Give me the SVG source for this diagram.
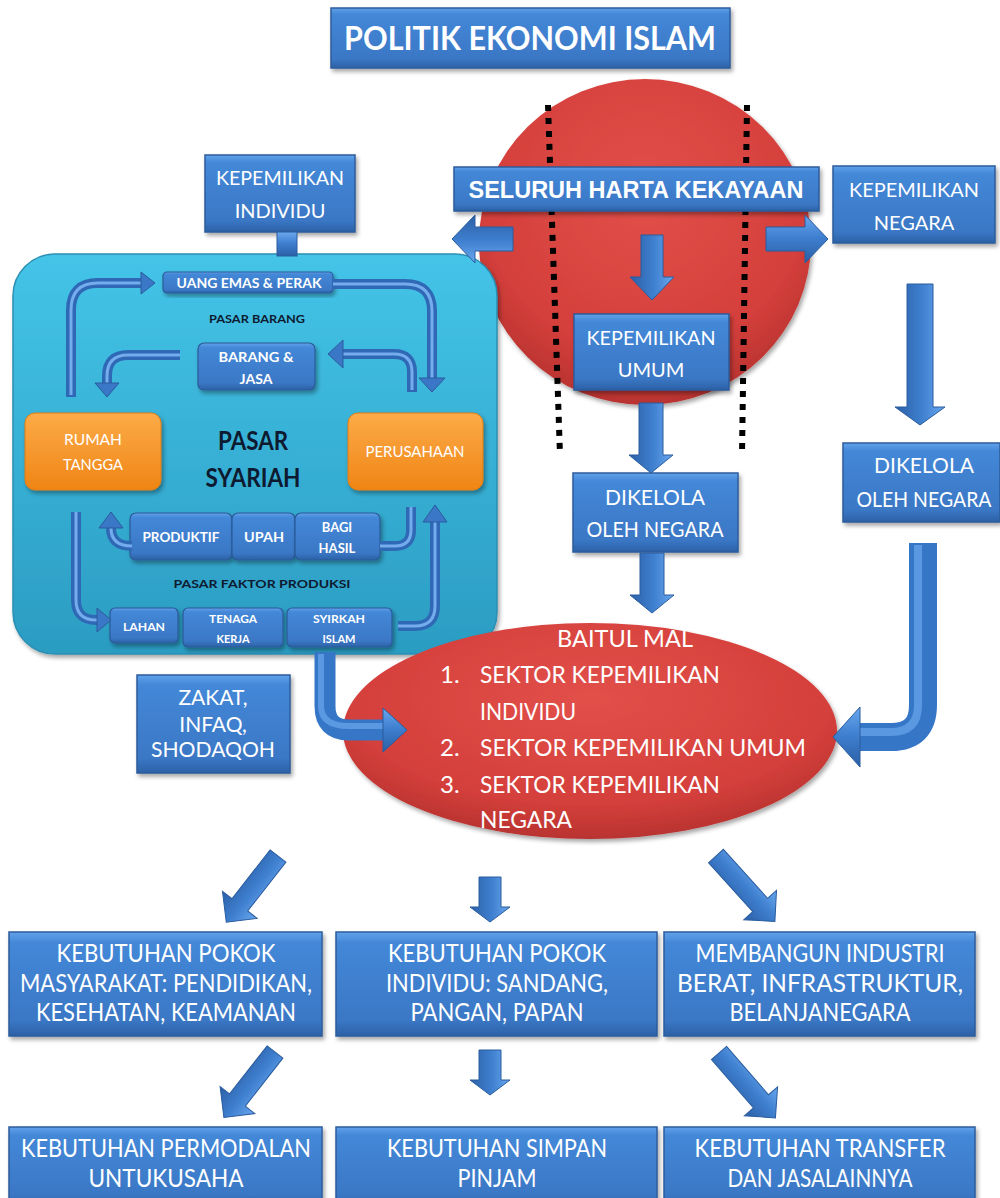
<svg xmlns="http://www.w3.org/2000/svg" width="1000" height="1198" viewBox="0 0 1000 1198">
<defs>
  <linearGradient id="gBlue" x1="0" y1="0" x2="0" y2="1">
    <stop offset="0" stop-color="#62a2ea"/>
    <stop offset="0.1" stop-color="#4488d8"/>
    <stop offset="0.85" stop-color="#3a77c5"/>
    <stop offset="1" stop-color="#2c61a6"/>
  </linearGradient>
  <linearGradient id="gArrow" x1="0" y1="0" x2="0" y2="1">
    <stop offset="0" stop-color="#6aa8ee"/>
    <stop offset="0.45" stop-color="#3f80d0"/>
    <stop offset="1" stop-color="#2b5fa6"/>
  </linearGradient>
  <radialGradient id="gRed" cx="0.5" cy="0.35" r="0.7">
    <stop offset="0" stop-color="#e2504a"/>
    <stop offset="0.7" stop-color="#d43f3b"/>
    <stop offset="1" stop-color="#b02f2c"/>
  </radialGradient>
  <linearGradient id="gTeal" x1="0" y1="0" x2="0" y2="1">
    <stop offset="0" stop-color="#44c4e8"/>
    <stop offset="1" stop-color="#2b9cc2"/>
  </linearGradient>
  <linearGradient id="gOrange" x1="0" y1="0" x2="0" y2="1">
    <stop offset="0" stop-color="#fcab48"/>
    <stop offset="1" stop-color="#ef8515"/>
  </linearGradient>
  <filter id="sh" x="-10%" y="-10%" width="125%" height="130%">
    <feDropShadow dx="2" dy="3" stdDeviation="2" flood-color="#000" flood-opacity="0.35"/>
  </filter>
</defs>
<style>
  .box{fill:url(#gBlue);stroke:#2b5c9c;stroke-width:1.5;filter:url(#sh)}
  .sbox{fill:url(#gBlue);stroke:#2a5a98;stroke-width:1.2;filter:url(#sh)}
  .org{fill:url(#gOrange);stroke:#e07d12;stroke-width:1;filter:url(#sh)}
  .t{font-family:Lato,'Liberation Sans',sans-serif;fill:#ffffff;text-anchor:middle}
  .ts{font-family:Lato,'Liberation Sans',sans-serif;fill:#ffffff}
  .b{font-weight:bold}
  .dk{fill:#0e1a30}
  .arr{fill:url(#gArrow);stroke:#2a5c9e;stroke-width:1}
  .pipe{fill:none;stroke:#2f69b6;stroke-width:10}
  .pipeHi{fill:none;stroke:#74aced;stroke-width:3}
  .phead{fill:#3a77c6;stroke:#2a5c9e;stroke-width:1}
  .thick{fill:none;stroke:#3676c6}
  .thickHi{fill:none;stroke:#5b98e2}
  .dots{stroke:#000;stroke-width:6;stroke-dasharray:6 7;fill:none}
</style>

<!-- big red circle -->
<g id="circle-harta">
  <ellipse cx="645" cy="242" rx="166" ry="163" fill="url(#gRed)" filter="url(#sh)"/>
  <path class="dots" d="M548,105 L560,455"/>
  <path class="dots" d="M747,105 L742,455"/>
</g>

<!-- title -->
<g id="title">
  <rect class="box" x="331" y="8" width="399" height="60"/>
  <text class="t b" x="530" y="50" font-size="32" textLength="372" lengthAdjust="spacingAndGlyphs">POLITIK EKONOMI ISLAM</text>
</g>

<!-- Pasar Syariah -->
<g id="pasar-syariah">
  <rect x="13" y="254" width="484" height="400" rx="42" fill="url(#gTeal)" stroke="#2a8fb3" stroke-width="1.5" filter="url(#sh)"/>
  <text class="t b dk" x="253" y="450" font-size="26" textLength="70" lengthAdjust="spacingAndGlyphs">PASAR</text>
  <text class="t b dk" x="253" y="487" font-size="26" textLength="95" lengthAdjust="spacingAndGlyphs">SYARIAH</text>
  <text class="t b dk" x="257" y="323" font-size="11" textLength="96" lengthAdjust="spacingAndGlyphs">PASAR BARANG</text>
  <text class="t b dk" x="262" y="588" font-size="11" textLength="177" lengthAdjust="spacingAndGlyphs">PASAR FAKTOR PRODUKSI</text>
</g>
<g id="uang">
  <rect class="sbox" x="163" y="272" width="170" height="21" rx="4"/>
  <text class="t b" x="249" y="288" font-size="13" textLength="145" lengthAdjust="spacingAndGlyphs">UANG EMAS &amp; PERAK</text>
</g>
<g id="barang-jasa">
  <rect class="sbox" x="198" y="343" width="117" height="47" rx="6"/>
  <text class="t b" x="256" y="362" font-size="14" textLength="75" lengthAdjust="spacingAndGlyphs">BARANG &amp;</text>
  <text class="t b" x="256" y="384" font-size="14">JASA</text>
</g>
<g id="rumah-tangga">
  <rect class="org" x="25" y="413" width="136" height="77" rx="10"/>
  <text class="t" x="93" y="445" font-size="16" textLength="58" lengthAdjust="spacingAndGlyphs">RUMAH</text>
  <text class="t" x="93" y="470" font-size="16" textLength="60" lengthAdjust="spacingAndGlyphs">TANGGA</text>
</g>
<g id="perusahaan">
  <rect class="org" x="348" y="413" width="135" height="77" rx="10"/>
  <text class="t" x="415" y="457" font-size="16" textLength="99" lengthAdjust="spacingAndGlyphs">PERUSAHAAN</text>
</g>
<g id="produktif">
  <rect class="sbox" x="130" y="513" width="102" height="47" rx="6"/>
  <text class="t b" x="181" y="542" font-size="13" textLength="77" lengthAdjust="spacingAndGlyphs">PRODUKTIF</text>
</g>
<g id="upah">
  <rect class="sbox" x="232" y="513" width="63" height="47" rx="6"/>
  <text class="t b" x="264" y="542" font-size="13" textLength="40" lengthAdjust="spacingAndGlyphs">UPAH</text>
</g>
<g id="bagi-hasil">
  <rect class="sbox" x="295" y="513" width="85" height="47" rx="6"/>
  <text class="t b" x="337" y="532" font-size="13">BAGI</text>
  <text class="t b" x="337" y="553" font-size="13">HASIL</text>
</g>
<g id="lahan">
  <rect class="sbox" x="110" y="608" width="68" height="35" rx="5"/>
  <text class="t b" x="144" y="631" font-size="12" textLength="42" lengthAdjust="spacingAndGlyphs">LAHAN</text>
</g>
<g id="tenaga-kerja">
  <rect class="sbox" x="183" y="608" width="100" height="39" rx="5"/>
  <text class="t b" x="233" y="623" font-size="11" textLength="48" lengthAdjust="spacingAndGlyphs">TENAGA</text>
  <text class="t b" x="233" y="643" font-size="11">KERJA</text>
</g>
<g id="syirkah">
  <rect class="sbox" x="287" y="608" width="105" height="39" rx="5"/>
  <text class="t b" x="339" y="623" font-size="11" textLength="52" lengthAdjust="spacingAndGlyphs">SYIRKAH</text>
  <text class="t b" x="339" y="643" font-size="11">ISLAM</text>
</g>

<!-- Baitul Mal -->
<g id="baitul-mal">
  <ellipse cx="590" cy="731" rx="247" ry="108" fill="url(#gRed)" filter="url(#sh)"/>
  <text class="t" x="625" y="647" font-size="24" textLength="136" lengthAdjust="spacingAndGlyphs">BAITUL MAL</text>
  <text class="ts" x="440" y="683" font-size="24">1.</text>
  <text class="ts" x="480" y="683" font-size="24" textLength="240" lengthAdjust="spacingAndGlyphs">SEKTOR KEPEMILIKAN</text>
  <text class="ts" x="480" y="720" font-size="24" textLength="96" lengthAdjust="spacingAndGlyphs">INDIVIDU</text>
  <text class="ts" x="440" y="756" font-size="24">2.</text>
  <text class="ts" x="480" y="756" font-size="24" textLength="326" lengthAdjust="spacingAndGlyphs">SEKTOR KEPEMILIKAN UMUM</text>
  <text class="ts" x="440" y="793" font-size="24">3.</text>
  <text class="ts" x="480" y="793" font-size="24" textLength="240" lengthAdjust="spacingAndGlyphs">SEKTOR KEPEMILIKAN</text>
  <text class="ts" x="480" y="828" font-size="24" textLength="92" lengthAdjust="spacingAndGlyphs">NEGARA</text>
</g>

<g id="seluruh-harta">
  <rect class="box" x="454" y="167" width="365" height="44"/>
  <text x="636" y="198" font-family="'Liberation Sans',Arial,sans-serif" font-weight="bold" font-size="23" fill="#ffffff" text-anchor="middle" textLength="335" lengthAdjust="spacingAndGlyphs">SELURUH HARTA KEKAYAAN</text>
</g>
<g id="kepemilikan-individu">
  <rect class="box" x="205" y="155" width="150" height="77"/>
  <text class="t" x="280" y="185" font-size="20" textLength="128" lengthAdjust="spacingAndGlyphs">KEPEMILIKAN</text>
  <text class="t" x="280" y="218" font-size="20">INDIVIDU</text>
</g>
<g id="kepemilikan-negara">
  <rect class="box" x="833" y="166" width="162" height="77"/>
  <text class="t" x="914" y="197" font-size="20" textLength="130" lengthAdjust="spacingAndGlyphs">KEPEMILIKAN</text>
  <text class="t" x="914" y="230" font-size="20">NEGARA</text>
</g>
<g id="kepemilikan-umum">
  <rect class="box" x="574" y="314" width="155" height="76"/>
  <text class="t" x="651" y="345" font-size="20" textLength="129" lengthAdjust="spacingAndGlyphs">KEPEMILIKAN</text>
  <text class="t" x="651" y="377" font-size="20">UMUM</text>
</g>
<g id="dikelola-tengah">
  <rect class="box" x="573" y="473" width="165" height="79"/>
  <text class="t" x="655" y="505" font-size="21">DIKELOLA</text>
  <text class="t" x="655" y="537" font-size="21" textLength="137" lengthAdjust="spacingAndGlyphs">OLEH NEGARA</text>
</g>
<g id="dikelola-kanan">
  <rect class="box" x="843" y="443" width="157" height="79"/>
  <text class="t" x="924" y="473" font-size="21">DIKELOLA</text>
  <text class="t" x="924" y="507" font-size="21" textLength="135" lengthAdjust="spacingAndGlyphs">OLEH NEGARA</text>
</g>
<g id="zakat">
  <rect class="box" x="137" y="675" width="153" height="98"/>
  <text class="t" x="213" y="705" font-size="21">ZAKAT,</text>
  <text class="t" x="213" y="732" font-size="21">INFAQ,</text>
  <text class="t" x="213" y="757" font-size="21" textLength="124" lengthAdjust="spacingAndGlyphs">SHODAQOH</text>
</g>

<!-- bottom rows -->
<g id="kebutuhan-masyarakat">
  <rect class="box" x="9" y="932" width="313" height="104"/>
  <text class="t" x="166" y="962" font-size="25" textLength="219" lengthAdjust="spacingAndGlyphs">KEBUTUHAN POKOK</text>
  <text class="t" x="166" y="992" font-size="25" textLength="292" lengthAdjust="spacingAndGlyphs">MASYARAKAT: PENDIDIKAN,</text>
  <text class="t" x="166" y="1021" font-size="25" textLength="260" lengthAdjust="spacingAndGlyphs">KESEHATAN, KEAMANAN</text>
</g>
<g id="kebutuhan-individu">
  <rect class="box" x="336" y="932" width="321" height="104"/>
  <text class="t" x="497" y="962" font-size="25" textLength="218" lengthAdjust="spacingAndGlyphs">KEBUTUHAN POKOK</text>
  <text class="t" x="497" y="992" font-size="25" textLength="222" lengthAdjust="spacingAndGlyphs">INDIVIDU: SANDANG,</text>
  <text class="t" x="497" y="1021" font-size="25" textLength="173" lengthAdjust="spacingAndGlyphs">PANGAN, PAPAN</text>
</g>
<g id="membangun-industri">
  <rect class="box" x="664" y="932" width="311" height="104"/>
  <text class="t" x="820" y="962" font-size="25" textLength="249" lengthAdjust="spacingAndGlyphs">MEMBANGUN INDUSTRI</text>
  <text class="t" x="820" y="992" font-size="25" textLength="286" lengthAdjust="spacingAndGlyphs">BERAT, INFRASTRUKTUR,</text>
  <text class="t" x="820" y="1021" font-size="25" textLength="181" lengthAdjust="spacingAndGlyphs">BELANJANEGARA</text>
</g>
<g id="permodalan">
  <rect class="box" x="9" y="1127" width="313" height="80"/>
  <text class="t" x="166" y="1157" font-size="25" textLength="290" lengthAdjust="spacingAndGlyphs">KEBUTUHAN PERMODALAN</text>
  <text class="t" x="166" y="1187" font-size="25" textLength="155" lengthAdjust="spacingAndGlyphs">UNTUKUSAHA</text>
</g>
<g id="simpan-pinjam">
  <rect class="box" x="336" y="1127" width="321" height="80"/>
  <text class="t" x="497" y="1157" font-size="25" textLength="220" lengthAdjust="spacingAndGlyphs">KEBUTUHAN SIMPAN</text>
  <text class="t" x="497" y="1187" font-size="25" textLength="79" lengthAdjust="spacingAndGlyphs">PINJAM</text>
</g>
<g id="transfer">
  <rect class="box" x="664" y="1127" width="311" height="80"/>
  <text class="t" x="820" y="1157" font-size="25" textLength="251" lengthAdjust="spacingAndGlyphs">KEBUTUHAN TRANSFER</text>
  <text class="t" x="820" y="1187" font-size="25" textLength="185" lengthAdjust="spacingAndGlyphs">DAN JASALAINNYA</text>
</g>

<!-- connectors -->
<g id="connectors">
  <!-- individu to pasar -->
  <rect x="277" y="232" width="20" height="24" fill="url(#gArrow)" stroke="#2a5c9e" stroke-width="1"/>
  <!-- seluruh harta arrows -->
  <polygon class="arr" transform="translate(513,239) rotate(180)" points="0,-12 38,-12 38,-24 61,0 38,24 38,12 0,12"/>
  <polygon class="arr" transform="translate(766,239)" points="0,-12 39,-12 39,-24 62,0 39,24 39,12 0,12"/>
  <polygon class="arr" transform="translate(652,235) rotate(90)" points="0,-11 42,-11 42,-22 65,0 42,22 42,11 0,11"/>
  <polygon class="arr" transform="translate(651,403) rotate(90)" points="0,-12 52,-12 52,-22 70,0 52,22 52,12 0,12"/>
  <polygon class="arr" transform="translate(652,553) rotate(90)" points="0,-12 42,-12 42,-22 60,0 42,22 42,12 0,12"/>
  <polygon class="arr" transform="translate(920,284) rotate(90)" points="0,-13 123,-13 123,-25 141,0 123,25 123,13 0,13"/>
  <!-- elbow right into baitul mal -->
  <path class="thick" stroke-width="28" d="M923,543 V705 Q923,737 891,737 H858"/>
  <path class="thickHi" stroke-width="8" d="M918,545 V705 Q918,732 891,732 H860"/>
  <polygon class="arr" points="860,707 833,737 860,767"/>
  <!-- elbow left into baitul mal -->
  <path class="thick" stroke-width="21" d="M325,652 V706 Q325,730 349,730 H385"/>
  <path class="thickHi" stroke-width="6" d="M321,654 V706 Q321,726 349,726 H385"/>
  <polygon class="arr" points="383,708 407,730 383,752"/>

  <!-- pipes inside pasar syariah -->
  <path class="pipe" d="M71,397 V310 Q71,283 98,283 H143"/>
  <path class="pipeHi" d="M71,395 V310 Q71,283 98,283 H143"/>
  <polygon class="phead" points="141,272 155,283 141,294"/>

  <path class="pipe" d="M333,284 H405 Q432,284 432,311 V378"/>
  <path class="pipeHi" d="M333,284 H405 Q432,284 432,311 V378"/>
  <polygon class="phead" points="419,378 432,392 445,378"/>

  <path class="pipe" d="M412,392 V372 Q412,354 394,354 H343"/>
  <path class="pipeHi" d="M412,390 V372 Q412,354 394,354 H343"/>
  <polygon class="phead" points="343,340 328,354 343,368"/>

  <path class="pipe" d="M180,355 H128 Q107,355 107,376 V383"/>
  <path class="pipeHi" d="M180,355 H128 Q107,355 107,376 V383"/>
  <polygon class="phead" points="95,383 107,397 119,383"/>

  <path class="pipe" d="M132,546 Q111,546 111,528"/>
  <path class="pipeHi" d="M132,546 Q111,546 111,528"/>
  <polygon class="phead" points="99,528 111,512 123,528"/>

  <path class="pipe" d="M411,507 V530 Q411,546 395,546 H380"/>
  <path class="pipeHi" d="M411,507 V530 Q411,546 395,546 H380"/>

  <path class="pipe" d="M76,512 V600 Q76,620 96,620 H99"/>
  <path class="pipeHi" d="M76,512 V600 Q76,620 96,620 H99"/>
  <polygon class="phead" points="97,608 111,620 97,632"/>

  <path class="pipe" d="M398,626 H415 Q435,626 435,606 V522"/>
  <path class="pipeHi" d="M398,626 H415 Q435,626 435,606 V522"/>
  <polygon class="phead" points="423,522 435,505 447,522"/>

  <!-- bottom arrows row 1 -->
  <polygon class="arr" transform="translate(278,856) rotate(128)" points="0,-10 62,-10 62,-22 84,0 62,22 62,10 0,10"/>
  <polygon class="arr" transform="translate(490,877) rotate(90)" points="0,-11 30,-11 30,-20 45,0 30,20 30,11 0,11"/>
  <polygon class="arr" transform="translate(716,856) rotate(48)" points="0,-10 66,-10 66,-22 88,0 66,22 66,10 0,10"/>
  <!-- bottom arrows row 2 -->
  <polygon class="arr" transform="translate(275,1052) rotate(128)" points="0,-10 61,-10 61,-22 83,0 61,22 61,10 0,10"/>
  <polygon class="arr" transform="translate(490,1050) rotate(90)" points="0,-11 30,-11 30,-20 45,0 30,20 30,11 0,11"/>
  <polygon class="arr" transform="translate(719,1053) rotate(49)" points="0,-10 64,-10 64,-22 86,0 64,22 64,10 0,10"/>
</g>
</svg>
